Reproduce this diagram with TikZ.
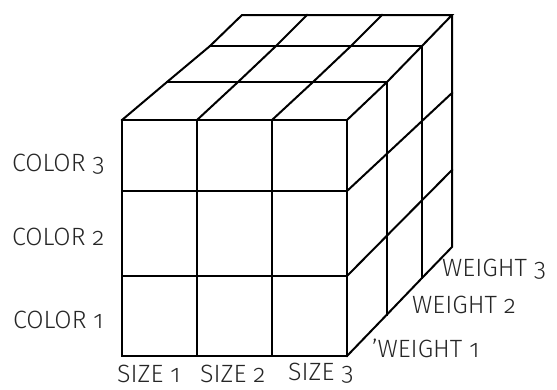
\documentclass[tikz,border=0pt]{standalone}
\usepackage{fontspec}
\setmainfont{Fira Sans}[UprightFont=* Light, Numbers=OldStyle]
\usetikzlibrary{calc}
\begin{document}
\begin{tikzpicture}[x=1pt,y=-1pt,
  edge/.style={draw=black,line width=2pt,line join=miter,line cap=rect},
  lbl/.style={inner sep=0pt,anchor=base west,text=black!85,font=\fontsize{25}{29}\selectfont}]
\useasboundingbox (0,0) rectangle (557,389);
% top face grid points T(i,d)
\coordinate (T00) at (122,120); \coordinate (T10) at (197,120); \coordinate (T20) at (272,120); \coordinate (T30) at (347,120);
\coordinate (T01) at (167,82);  \coordinate (T11) at (238,82);  \coordinate (T21) at (313,82);  \coordinate (T31) at (387,82);
\coordinate (T02) at (210,46);  \coordinate (T12) at (276,46);  \coordinate (T22) at (351,46);  \coordinate (T32) at (422,46);
\coordinate (T03) at (242,15);  \coordinate (T13) at (307,15);  \coordinate (T23) at (382,15);  \coordinate (T33) at (452,15);
% front face rows (y) and columns
\coordinate (F00) at (122,356); \coordinate (F10) at (197,356); \coordinate (F20) at (272,356); \coordinate (F30) at (347,356);
\coordinate (F01) at (122,276); \coordinate (F31) at (347,276);
\coordinate (F02) at (122,191); \coordinate (F32) at (347,191);
% right face points S(d,h)
\coordinate (S00) at (347,356); \coordinate (S10) at (387,314.5); \coordinate (S20) at (422,278); \coordinate (S30) at (452,247);
\coordinate (S01) at (347,276); \coordinate (S11) at (387,235.6); \coordinate (S21) at (422,200.3); \coordinate (S31) at (452,170);
\coordinate (S02) at (347,191); \coordinate (S12) at (387,153.7); \coordinate (S22) at (422,121); \coordinate (S32) at (452,93);
% front face
\draw[edge] (F00) -- (F30) -- (T30) -- (T00) -- cycle;
\draw[edge] (F10) -- (T10);
\draw[edge] (F20) -- (T20);
\draw[edge] (F01) -- (F31);
\draw[edge] (F02) -- (F32);
% top face
\draw[edge] (T00) -- (T01) -- (T02) -- (T03) -- (T33) -- (T32) -- (T31) -- (T30);
\draw[edge] (T10) -- (T11) -- (T12) -- (T13);
\draw[edge] (T20) -- (T21) -- (T22) -- (T23);
\draw[edge] (T01) -- (T31);
\draw[edge] (T02) -- (T32);
% right face
\draw[edge] (T31) -- (S10);
\draw[edge] (T32) -- (S20);
\draw[edge] (T33) -- (S30) -- (S20) -- (S10) -- (S00);
\draw[edge] (S01) -- (S11) -- (S21) -- (S31);
\draw[edge] (S02) -- (S12) -- (S22) -- (S32);
% labels
\node[lbl] (c3) at (12,171) {COLOR 3};
\node[lbl] (c2) at (12,245) {COLOR 2};
\node[lbl] (c1) at (13,328) {COLOR 1};
\node[lbl] (s1) at (117,382) {SIZE 1};
\node[lbl] (s2) at (200,382) {SIZE 2};
\node[lbl] (s3) at (288,380.5) {SIZE 3};
\node[lbl] (w3) at (442,276) {WEIGHT 3};
\node[lbl] (w2) at (412,313) {WEIGHT 2};
\node[lbl] (w1) at (372,357) {'WEIGHT 1};
\end{tikzpicture}
\end{document}
